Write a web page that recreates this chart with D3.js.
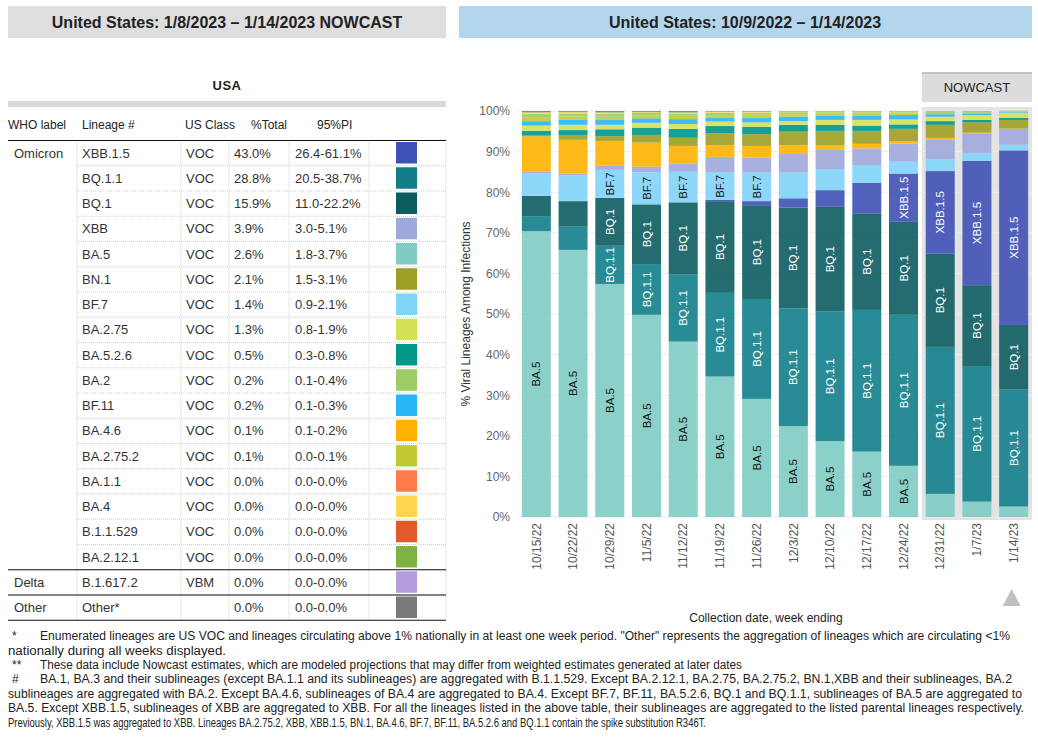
<!DOCTYPE html>
<html>
<head>
<meta charset="utf-8">
<script src="https://cdn.jsdelivr.net/npm/d3@7"></script>
<style>
  body { margin: 0; background: #fff; }
  svg { display: block; font-family: "Liberation Sans", Arial, sans-serif; }
</style>
</head>
<body>
<svg id="chart" width="1038" height="741"></svg>
<script>
// ---- data ----
const weeks = ['10/15/22', '10/22/22', '10/29/22', '11/5/22', '11/12/22', '11/19/22', '11/26/22',
  '12/3/22', '12/10/22', '12/17/22', '12/24/22', '12/31/22', '1/7/23', '1/14/23'];
const nowcastWeeks = ['12/31/22', '1/7/23', '1/14/23'];

// table (latest week)
const lineages = ['XBB.1.5', 'BQ.1.1', 'BQ.1', 'XBB', 'BA.5', 'BN.1', 'BF.7', 'BA.2.75', 'BA.5.2.6', 'BA.2',
  'BF.11', 'BA.4.6', 'BA.2.75.2', 'BA.1.1', 'BA.4', 'B.1.1.529', 'BA.2.12.1', 'B.1.617.2', 'Other*'];
const whoLabels = ['Omicron', 'Omicron', 'Omicron', 'Omicron', 'Omicron', 'Omicron', 'Omicron', 'Omicron', 'Omicron',
  'Omicron', 'Omicron', 'Omicron', 'Omicron', 'Omicron', 'Omicron', 'Omicron', 'Omicron', 'Delta', 'Other'];
const usClass = ['VOC', 'VOC', 'VOC', 'VOC', 'VOC', 'VOC', 'VOC', 'VOC', 'VOC', 'VOC',
  'VOC', 'VOC', 'VOC', 'VOC', 'VOC', 'VOC', 'VOC', 'VBM', ''];
const pctTotal = [43.0, 28.8, 15.9, 3.9, 2.6, 2.1, 1.4, 1.3, 0.5, 0.2, 0.2, 0.1, 0.1, 0.0, 0.0, 0.0, 0.0, 0.0, 0.0];
const pi95 = ['26.4-61.1%', '20.5-38.7%', '11.0-22.2%', '3.0-5.1%', '1.8-3.7%', '1.5-3.1%', '0.9-2.1%', '0.8-1.9%',
  '0.3-0.8%', '0.1-0.4%', '0.1-0.3%', '0.1-0.2%', '0.0-0.1%', '0.0-0.0%', '0.0-0.0%', '0.0-0.0%', '0.0-0.0%',
  '0.0-0.0%', '0.0-0.0%'];
const lineageColors = ['#3f51b5', '#117e89', '#0c5c5f', '#9fa8da', '#80cbc4', '#9e9d24', '#81d4fa', '#d4e157',
  '#009688', '#9ccc65', '#29b6f6', '#ffb300', '#c0ca33', '#ff7b4a', '#ffd54f', '#e05a2a', '#7cb342', '#b39ddb', '#7a7a7a'];

// weekly shares (%) per lineage
const ba5 = [70.4, 65.8, 57.4, 49.8, 43.2, 34.6, 29.1, 22.4, 18.7, 16.1, 12.6, 5.7, 3.8, 2.6];
const bq11 = [3.7, 5.7, 9.4, 12.5, 16.6, 20.6, 24.6, 29.0, 31.9, 34.9, 37.2, 36.2, 33.4, 28.8];
const bq1 = [5.0, 6.3, 11.8, 14.7, 17.7, 22.6, 23.1, 24.8, 25.8, 23.8, 22.9, 23.0, 19.9, 15.9];
const xbb15 = [0, 0, 0, 0, 0, 0.3, 1.0, 2.3, 4.1, 7.5, 11.9, 20.3, 30.6, 43.0];
const bf7 = [5.6, 6.3, 6.9, 7.9, 7.5, 6.7, 7.0, 6.3, 5.2, 4.4, 2.9, 3.0, 2.0, 1.4];
const xbb = [0.3, 0.5, 1.0, 1.4, 2.1, 3.9, 3.7, 4.6, 4.9, 4.1, 4.5, 4.8, 4.8, 3.9];
const ba46 = [8.7, 8.3, 6.1, 5.9, 4.3, 2.9, 2.9, 2.2, 1.0, 1.1, 0.6, 0.4, 0.2, 0.1];
const bn1 = [0.4, 1.2, 1.2, 1.9, 2.0, 2.9, 2.9, 3.3, 3.5, 3.2, 3.0, 3.2, 2.5, 2.1];
const ba526 = [1.0, 1.2, 1.7, 1.8, 2.2, 1.8, 1.8, 1.7, 1.5, 1.3, 1.1, 0.9, 0.6, 0.5];
const ba275 = [1.3, 1.3, 1.1, 1.2, 1.2, 1.1, 1.1, 0.9, 1.2, 1.4, 1.2, 1.1, 1.2, 1.3];
const bf11 = [1.1, 1.2, 1.2, 1.1, 1.2, 0.9, 1.2, 1.1, 1.0, 1.0, 1.1, 0.6, 0.4, 0.2];
const ba2752 = [0.8, 0.8, 0.8, 0.7, 0.8, 0.7, 0.7, 0.6, 0.5, 0.5, 0.4, 0.3, 0.2, 0.1];
const ba2 = [1.0, 0.8, 0.7, 0.6, 0.6, 0.6, 0.5, 0.5, 0.4, 0.4, 0.3, 0.3, 0.2, 0.2];
const ba4 = [0.3, 0.3, 0.3, 0.2, 0.2, 0.2, 0.2, 0.2, 0.2, 0.2, 0.2, 0.1, 0.1, 0];
const ba11 = [0, 0, 0, 0, 0, 0, 0, 0, 0, 0, 0, 0, 0, 0];
const b11529 = [0, 0, 0, 0, 0, 0, 0, 0, 0, 0, 0, 0, 0, 0];
const ba2121 = [0.1, 0.1, 0.1, 0.1, 0.1, 0.1, 0.1, 0, 0, 0, 0, 0, 0, 0];
const b16172 = [0, 0, 0, 0, 0, 0, 0, 0, 0, 0, 0, 0, 0, 0];
const other = [0.3, 0.2, 0.3, 0.2, 0.3, 0.1, 0.1, 0.1, 0.1, 0.1, 0.1, 0.1, 0.1, 0];

// bottom-to-top stacking order
const stackOrder = ['BA.5', 'BQ.1.1', 'BQ.1', 'XBB.1.5', 'BF.7', 'XBB', 'BA.4.6', 'BN.1', 'BA.5.2.6', 'BA.2.75',
  'BF.11', 'BA.2.75.2', 'BA.2', 'BA.4', 'BA.1.1', 'B.1.1.529', 'BA.2.12.1', 'B.1.617.2', 'Other*'];
const stackValues = [ba5, bq11, bq1, xbb15, bf7, xbb, ba46, bn1, ba526, ba275,
  bf11, ba2752, ba2, ba4, ba11, b11529, ba2121, b16172, other];

const yTicks = [0, 10, 20, 30, 40, 50, 60, 70, 80, 90, 100];
const labelledLineages = ['BA.5', 'BQ.1.1', 'BQ.1', 'BF.7', 'XBB.1.5'];
const labelMin = 6.5;

const footnotes = [
  { mark: '*', x: 40, end: 1010, text: 'Enumerated lineages are US VOC and lineages circulating above 1% nationally in at least one week period. "Other" represents the aggregation of lineages which are circulating <1%' },
  { mark: '', x: 8, end: 226, text: 'nationally during all weeks displayed.' },
  { mark: '**', x: 40, end: 742, text: 'These data include Nowcast estimates, which are modeled projections that may differ from weighted estimates generated at later dates' },
  { mark: '#', x: 40, end: 1012, text: 'BA.1, BA.3 and their sublineages (except BA.1.1 and its sublineages) are aggregated with B.1.1.529. Except BA.2.12.1, BA.2.75, BA.2.75.2, BN.1,XBB and their sublineages, BA.2' },
  { mark: '', x: 8, end: 1022, text: 'sublineages are aggregated with BA.2. Except BA.4.6, sublineages of BA.4 are aggregated to BA.4. Except BF.7, BF.11, BA.5.2.6, BQ.1 and BQ.1.1, sublineages of BA.5 are aggregated to' },
  { mark: '', x: 8, end: 1024, text: 'BA.5. Except XBB.1.5, sublineages of XBB are aggregated to XBB. For all the lineages listed in the above table, their sublineages are aggregated to the listed parental lineages respectively.' },
  { mark: '', x: 8, end: 706, text: 'Previously, XBB.1.5 was aggregated to XBB. Lineages BA.2.75.2, XBB, XBB.1.5, BN.1, BA.4.6, BF.7, BF.11, BA.5.2.6 and BQ.1.1 contain the spike substitution R346T.' }
];

// ---- drawing ----
const svg = d3.select('#chart');
const colorOf = name => lineageColors[lineages.indexOf(name)];

// panel headers
svg.append('rect').attr('x', 8).attr('y', 6).attr('width', 438).attr('height', 32).attr('fill', '#dedede');
svg.append('text').attr('x', 227).attr('y', 22).attr('dy', '0.35em').attr('text-anchor', 'middle')
  .attr('font-size', 16).attr('font-weight', 'bold').attr('fill', '#222')
  .text('United States: 1/8/2023 \u2013 1/14/2023 NOWCAST');
svg.append('rect').attr('x', 459).attr('y', 6).attr('width', 573).attr('height', 32).attr('fill', '#b4d6ed');
svg.append('text').attr('x', 745).attr('y', 22).attr('dy', '0.35em').attr('text-anchor', 'middle')
  .attr('font-size', 16).attr('font-weight', 'bold').attr('fill', '#222')
  .text('United States: 10/9/2022 \u2013 1/14/2023');

// ---- table ----
const tLeft = 8, tRight = 446, tTop = 140.5, rowH = 25.25;
const colLines = [77, 181, 229, 289, 369, tRight];
const table = svg.append('g');

table.append('text').attr('x', 227).attr('y', 85).attr('dy', '0.35em').attr('text-anchor', 'middle')
  .attr('font-size', 13).attr('font-weight', 'bold').attr('fill', '#222').attr('letter-spacing', 0.5).text('USA');
table.append('rect').attr('x', tLeft).attr('y', 101).attr('width', tRight - tLeft).attr('height', 6).attr('fill', '#d9d9d9');

const headers = [['WHO label', 8], ['Lineage #', 82], ['US Class', 185], ['%Total', 251], ['95%PI', 317]];
table.selectAll('text.hdr').data(headers).enter().append('text')
  .attr('class', 'hdr').attr('x', d => d[1]).attr('y', 125).attr('dy', '0.35em')
  .attr('font-size', 12).attr('fill', '#222').text(d => d[0]);

const rowY = i => tTop + i * rowH;
const nRows = lineages.length;

// dotted grid
table.selectAll('line.vcol').data(colLines).enter().append('line')
  .attr('x1', d => d).attr('x2', d => d).attr('y1', tTop).attr('y2', rowY(nRows))
  .attr('stroke', '#cfcfcf').attr('stroke-dasharray', '1,1');
table.selectAll('line.hrow').data(d3.range(1, nRows)).enter().append('line')
  .attr('x1', colLines[0]).attr('x2', tRight).attr('y1', d => rowY(d)).attr('y2', d => rowY(d))
  .attr('stroke', '#cfcfcf').attr('stroke-dasharray', '1,1');

// group separators
const groupStarts = d3.range(nRows).filter(i => i === 0 || whoLabels[i] !== whoLabels[i - 1]);
table.selectAll('line.grp').data(groupStarts.concat([nRows])).enter().append('line')
  .attr('x1', tLeft).attr('x2', tRight).attr('y1', d => rowY(d)).attr('y2', d => rowY(d))
  .attr('stroke', '#111').attr('stroke-width', 1.2);

const rows = table.selectAll('g.row').data(lineages).enter().append('g')
  .attr('transform', (d, i) => `translate(0,${rowY(i) + rowH / 2})`);
rows.filter((d, i) => groupStarts.includes(i)).append('text')
  .attr('x', 14).attr('dy', '0.35em').attr('font-size', 13).attr('fill', '#333').text((d, i, n) => whoLabels[lineages.indexOf(d)]);
rows.append('text').attr('x', 82).attr('dy', '0.35em').attr('font-size', 13).attr('fill', '#333').text(d => d);
rows.append('text').attr('x', 186).attr('dy', '0.35em').attr('font-size', 13).attr('fill', '#333').text((d, i) => usClass[i]);
rows.append('text').attr('x', 234).attr('dy', '0.35em').attr('font-size', 13).attr('fill', '#333').text((d, i) => pctTotal[i].toFixed(1) + '%');
rows.append('text').attr('x', 295).attr('dy', '0.35em').attr('font-size', 13).attr('fill', '#333').text((d, i) => pi95[i]);
rows.append('rect').attr('x', 396).attr('y', -rowH / 2 + 1.5).attr('width', 21).attr('height', 21.5)
  .attr('fill', (d, i) => lineageColors[i]);

// ---- stacked bar chart ----
const x = d3.scaleBand().domain(weeks).range([518, 1032]).paddingInner(0.21).paddingOuter(0.105);
const y = d3.scaleLinear().domain([0, 100]).range([517, 111]);

const tableData = weeks.map((w, i) => {
  const row = { week: w };
  stackOrder.forEach((k, j) => { row[k] = stackValues[j][i]; });
  return row;
});
const stacked = d3.stack().keys(stackOrder)(tableData);

// nowcast panel
const ncLeft = x(nowcastWeeks[0]) - x.step() * x.paddingInner() / 2;
const ncRight = x.range()[1];
svg.append('rect').attr('x', ncLeft).attr('y', 107).attr('width', ncRight - ncLeft).attr('height', 413).attr('fill', '#e3e3e3');
svg.append('rect').attr('x', ncLeft).attr('y', 72).attr('width', ncRight - ncLeft).attr('height', 30).attr('fill', '#dcdcdc');
svg.append('line').attr('x1', ncLeft).attr('x2', ncRight).attr('y1', 73).attr('y2', 73).attr('stroke', '#c4c4c4').attr('stroke-width', 2);
svg.append('text').attr('x', (ncLeft + ncRight) / 2).attr('y', 87).attr('dy', '0.35em').attr('text-anchor', 'middle')
  .attr('font-size', 13).attr('fill', '#222').text('NOWCAST');

// grid
svg.append('g').selectAll('line').data(yTicks).enter().append('line')
  .attr('x1', x.range()[0]).attr('x2', x.range()[1]).attr('y1', d => y(d)).attr('y2', d => y(d))
  .attr('stroke', '#ededed');

// y axis
const yAxis = svg.append('g').attr('transform', 'translate(518,0)')
  .call(d3.axisLeft(y).tickValues(yTicks).tickFormat(d => d + '%').tickSize(0).tickPadding(8));
yAxis.select('.domain').remove();
yAxis.selectAll('text').attr('font-size', 12).attr('fill', '#666').attr('font-family', null);

svg.append('text').attr('transform', `translate(466,${(y(0) + y(100)) / 2}) rotate(-90)`)
  .attr('text-anchor', 'middle').attr('dy', '0.35em').attr('font-size', 12).attr('fill', '#333')
  .text('% Viral Lineages Among Infections');

// bars
const layers = svg.append('g').selectAll('g').data(stacked).enter().append('g')
  .attr('fill', d => colorOf(d.key)).attr('fill-opacity', 0.9);
layers.selectAll('rect').data(d => d).enter().append('rect')
  .attr('x', d => x(d.data.week))
  .attr('width', x.bandwidth())
  .attr('y', d => y(d[1]))
  .attr('height', d => Math.max(0, y(d[0]) - y(d[1])));

// segment labels
const labelG = svg.append('g');
stacked.filter(s => labelledLineages.includes(s.key)).forEach(s => {
  const txtColor = d3.hsl(colorOf(s.key)).l > 0.6 ? '#111' : '#fff';
  s.forEach(d => {
    if (d[1] - d[0] < labelMin) return;
    const h = y(d[0]) - y(d[1]);
    const cx = x(d.data.week) + x.bandwidth() / 2;
    const cy = (y(d[0]) + y(d[1])) / 2;
    const t = labelG.append('text')
      .attr('transform', `translate(${cx},${cy}) rotate(-90)`)
      .attr('text-anchor', 'middle').attr('dy', '0.36em')
      .attr('font-size', 11.5).attr('fill', txtColor).text(s.key);
    if (t.node().getComputedTextLength() > h) t.remove();
  });
});

// x axis
const xAxis = svg.append('g').attr('transform', `translate(0,${y(0)})`)
  .call(d3.axisBottom(x).tickSize(0).tickPadding(0));
xAxis.select('.domain').remove();
xAxis.selectAll('text').attr('font-size', 12).attr('fill', '#555').attr('font-family', null)
  .attr('transform', 'translate(0,6) rotate(-90)').attr('text-anchor', 'end').attr('dy', '0.35em').attr('y', 0).attr('x', 0);

svg.append('text').attr('x', 766).attr('y', 618).attr('dy', '0.35em').attr('text-anchor', 'middle')
  .attr('font-size', 12).attr('fill', '#222').text('Collection date, week ending');

// scroll triangle
const tx = x(weeks[weeks.length - 1]) + x.bandwidth() / 2 - 2;
svg.append('path').attr('d', `M${tx},589 L${tx + 9},606 L${tx - 9},606 Z`).attr('fill', '#c0c0c0');

// ---- footnotes ----
const notes = svg.append('g').attr('font-size', 12).attr('fill', '#222');
footnotes.forEach((f, i) => {
  const yy = 636 + i * 14.4;
  if (f.mark) notes.append('text').attr('x', 12).attr('y', yy).attr('dy', '0.35em').text(f.mark);
  notes.append('text').attr('x', f.x).attr('y', yy).attr('dy', '0.35em')
    .attr('textLength', f.end - f.x).attr('lengthAdjust', 'spacingAndGlyphs').text(f.text);
});
</script>
</body>
</html>
